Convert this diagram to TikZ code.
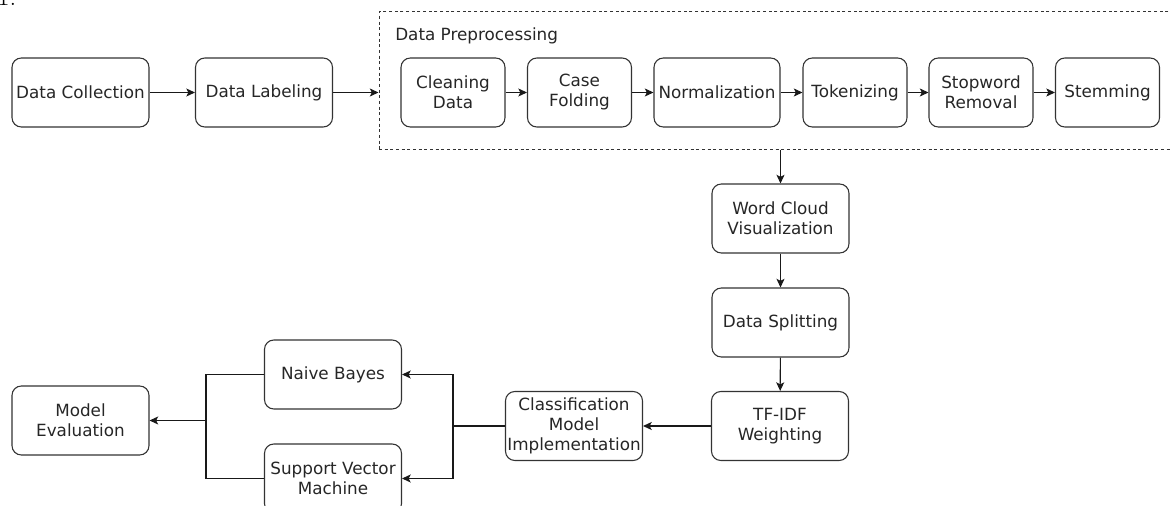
\documentclass[tikz,border=0pt]{standalone}
\usepackage{fontspec}
\newfontfamily\boxfont{DejaVu Sans}
\usetikzlibrary{arrows.meta}

\begin{document}
\begin{tikzpicture}[x=0.75pt,y=-0.75pt,
  stage/.style={draw=black!80, line width=0.8pt, rounded corners=7pt, align=center,
    inner sep=0pt, minimum height=51.75pt, text=black!85,
    font=\boxfont\fontsize{12.6}{15}\selectfont},
  wide/.style={stage, minimum width=102.75pt},
  narrow/.style={stage, minimum width=78pt},
  link/.style={draw=black!90, line width=0.8pt, -{Stealth[length=6.5pt,width=6pt,inset=1.5pt]}},
  wire/.style={draw=black!90, line width=0.8pt}]
\useasboundingbox (0,0) rectangle (1170,506);
\clip (0,0) rectangle (1170,506);
% caption remnant
\node[anchor=base west, inner sep=0pt, font=\fontsize{20}{22}\selectfont] (capnum) at (-3,6) {1.};
% first row
\node[wide] (coll) at (80.5,92.5) {Data Collection};
\node[wide] (lab) at (264,92.5) {Data Labeling};
\node[draw=black!80, line width=0.75pt, dash pattern=on 2.25pt off 2pt, inner sep=0pt,
  minimum width=597pt, minimum height=103.5pt] (prep) at (777,81) {};
\node[anchor=west, inner sep=0pt, text=black!85, font=\boxfont\fontsize{12.6}{15}\selectfont] (preplbl) at (395,36) {Data Preprocessing};
\node[narrow] (clean) at (453,92.5) {Cleaning\\Data};
\node[narrow] (case) at (579.5,92.5) {Case\\Folding};
\node[narrow, minimum width=94.5pt] (norm) at (717,92.5) {Normalization};
\node[narrow] (tok) at (855,92.5) {Tokenizing};
\node[narrow] (stop) at (981,92.5) {Stopword\\Removal};
\node[narrow] (stem) at (1107.5,92.5) {Stemming};
% column down
\node[wide] (wc) at (780.5,218.5) {Word Cloud\\Visualization};
\node[wide] (split) at (780.5,322.5) {Data Splitting};
\node[wide] (tfidf) at (780,426) {TF-IDF\\Weighting};
\node[wide] (impl) at (574,426) {Classification\\Model\\Implementation};
% models
\node[wide] (nb) at (333,374.5) {Naive Bayes};
\node[wide] (svm) at (333,478.5) {Support Vector\\Machine};
\node[wide] (eval) at (80.5,420.5) {Model\\Evaluation};
\coordinate (fork) at (453,426);
\coordinate (merge) at (206,420.5);
% connectors
\draw[link] (coll) -- (lab);
\draw[link] (lab.east) -- (lab.east -| prep.west);
\draw[link] (clean) -- (case);
\draw[link] (case) -- (norm);
\draw[link] (norm) -- (tok);
\draw[link] (tok) -- (stop);
\draw[link] (stop) -- (stem);
\draw[link] (wc.north |- prep.south) -- (wc);
\draw[link] (wc) -- (split);
\draw[link] (split) -- (tfidf);
\draw[link] (tfidf) -- (impl);
\draw[wire] (impl.west) -- (fork);
\draw[link] (fork) |- (nb.east);
\draw[link] (fork) |- (svm.east);
\draw[wire] (nb.west) -| (merge);
\draw[wire] (svm.west) -| (merge);
\draw[link] (merge) -- (eval.east);
\end{tikzpicture}
\end{document}
